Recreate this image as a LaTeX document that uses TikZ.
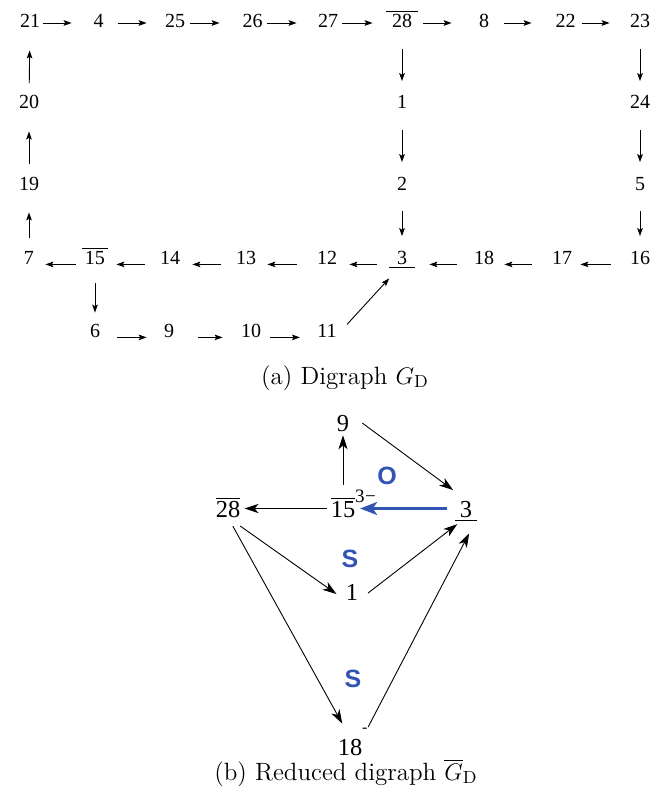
\documentclass[tikz,border=0pt]{standalone}
\usepackage{fontspec}
\usetikzlibrary{arrows.meta}
\newfontfamily\timesf{Liberation Serif}
\newfontfamily\helvf{Liberation Sans}
\definecolor{markblue}{RGB}{48,84,178}
% bar over / line under a label
\newcommand\obar[2][0pt]{$\overline{\hbox{\kern#1#2\kern#1}}$}
\newcommand\ubar[2][0pt]{$\underline{\hbox{\kern#1#2\kern#1}}$}
\tikzset{
  num/.style={font=\timesf\fontsize{10}{12}\selectfont, inner sep=0pt, text height=5pt, text depth=0pt, anchor=base},
  bnum/.style={font=\timesf\fontsize{12.2}{14}\selectfont, inner sep=0pt, text height=8.5pt, text depth=0pt, anchor=base},
  arr/.style={-{Stealth[length=4pt,width=2.8pt,inset=0.8pt]}, line width=0.45pt},
  gap/.style 2 args={arr, shorten <=#1, shorten >=#2},
  darr/.style={arr, shorten <=10.5pt, shorten >=8.75pt},
  uarr/.style={arr, shorten <=7.75pt, shorten >=11pt},
  barr/.style={-{Stealth[length=7pt,width=4.6pt,inset=2pt]}, line width=0.45pt},
  oarr/.style={-{Stealth[length=8.5pt,width=6.5pt,inset=2.2pt]}, line width=1.6pt, draw=markblue},
  sidelbl/.style={font=\helvf\bfseries\fontsize{12.5}{14}\selectfont, text=markblue, inner sep=0pt},
  caption/.style={font=\fontsize{12.5}{15}\selectfont, anchor=base},
}
\begin{document}
\begin{tikzpicture}[x=0.5pt, y=-0.5pt]
    \useasboundingbox (0,0) rectangle (664,792);
    % row baselines of the digraph
    \def\ra{28} \def\rb{109} \def\rc{190} \def\rd{264} \def\re{337}

    % --- (a) Digraph: top row ---
    \node[num] (t21) at (30,\ra) {21};
    \node[num] (t4) at (98.5,\ra) {4};
    \node[num] (t25) at (175,\ra) {25};
    \node[num] (t26) at (252.5,\ra) {26};
    \node[num] (t27) at (328,\ra) {27};
    \node[num] (t28) at (402,\ra) {\obar[3pt]{28}};
    \node[num] (t8) at (484,\ra) {8};
    \node[num] (t22) at (565.5,\ra) {22};
    \node[num] (t23) at (640,\ra) {23};

    % --- columns ---
    \node[num] (t20) at (29,\rb) {20};
    \node[num] (t19) at (29,\rc) {19};
    \node[num] (t1) at (402,\rb) {1};
    \node[num] (t2) at (402,\rc) {2};
    \node[num] (t24) at (640,\rb) {24};
    \node[num] (t5) at (640,\rc) {5};

    % --- bottom rows ---
    \node[num] (t7) at (29,\rd) {7};
    \node[num] (t15) at (95,\rd) {\obar[1.5pt]{15}};
    \node[num] (t14) at (170,\rd) {14};
    \node[num] (t13) at (246,\rd) {13};
    \node[num] (t12) at (327,\rd) {12};
    \node[num] (t3) at (402,\rd) {\ubar[4pt]{3}};
    \node[num] (t18) at (484,\rd) {18};
    \node[num] (t17) at (562,\rd) {17};
    \node[num] (t16) at (640,\rd) {16};
    \node[num] (t6) at (95,\re) {6};
    \node[num] (t9) at (169,\re) {9};
    \node[num] (t10) at (251,\re) {10};
    \node[num] (t11) at (327,\re) {11};

    % --- arcs of (a) ---
    \draw[gap={1.5pt}{10.75pt}] (t21) -- (t4);
    \draw[gap={7.25pt}{9pt}] (t4) -- (t25);
    \draw[gap={2.5pt}{11.25pt}] (t25) -- (t26);
    \draw[gap={2.25pt}{10.5pt}] (t26) -- (t27);
    \draw[gap={2pt}{6.5pt}] (t27) -- (t28);
    \draw[gap={2.5pt}{13.5pt}] (t28) -- (t8);
    \draw[gap={7.5pt}{11.75pt}] (t8) -- (t22);
    \draw[gap={3.25pt}{10pt}] (t22) -- (t23);
    \draw[darr] (t28) -- (t1);
    \draw[darr] (t1) -- (t2);
    \draw[darr] (t2) -- (t3);
    \draw[darr] (t23) -- (t24);
    \draw[darr] (t24) -- (t5);
    \draw[darr] (t5) -- (t16);
    \draw[uarr] (t7) -- (t19);
    \draw[uarr] (t19) -- (t20);
    \draw[uarr] (t20) -- (t21);
    \draw[gap={9.5pt}{4pt}] (t16.south west) -- (t17.south east);
    \draw[gap={10pt}{5pt}] (t17.south west) -- (t18.south east);
    \draw[gap={8.5pt}{7pt}] (t18.south west) -- (t3.south east);
    \draw[gap={6pt}{6pt}] (t3.south west) -- (t12.south east);
    \draw[gap={10pt}{5.5pt}] (t12.south west) -- (t13.south east);
    \draw[gap={7.5pt}{6pt}] (t13.south west) -- (t14.south east);
    \draw[gap={7.5pt}{4pt}] (t14.south west) -- (t15.south east);
    \draw[gap={3pt}{5.5pt}] (t15.south west) -- (t7.south east);
    \draw[darr, shorten <=9.5pt, shorten >=7pt] (t15) -- (t6);
    \draw[gap={8.5pt}{8.5pt}] (t6.south east) -- (t9.south west);
    \draw[gap={12pt}{9pt}] (t9.south east) -- (t10.south west);
    \draw[gap={4.5pt}{8.5pt}] (t10.south east) -- (t11.south west);
    \draw[gap={1.5pt}{9.5pt}] ([xshift=4pt]t11.north east) -- (t3.south);

    \node[caption] (capA) at (345,384) {(a) Digraph $G_{\mathrm{D}}$};

    % --- (b) Reduced digraph ---
    \node[bnum] (b9) at (343,431) {9};
    \node[bnum] (b15) at (343,517) {\obar{15}\rlap{\raisebox{7.5pt}{\fontsize{9.5}{9.5}\selectfont 3\kern0.2pt−}}};
    \node[bnum] (b28) at (228,517) {\obar{28}};
    \node[bnum] (b3) at (466,517) {\ubar[2.5pt]{3}};
    \node[bnum] (b1) at (352,600) {1};
    \node[bnum] (b18) at (350,755) {18\rlap{\raisebox{11.5pt}{\fontsize{8}{8}\selectfont -}}};

    \draw[barr, shorten <=7.5pt, shorten >=2pt] (b15.north) -- (b9.south);
    \draw[barr, shorten <=1.5pt, shorten >=2pt] (b15) -- (b28);
    \draw[oarr, shorten <=3.75pt, shorten >=2.25pt] (b3) -- (b15);
    \draw[barr, shorten <=8pt, shorten >=8pt] (b9.north east) -- (b3.north);
    \draw[barr, shorten <=7.5pt, shorten >=5.5pt] (b28.south) -- (b1.south west);
    \draw[barr, shorten <=6pt, shorten >=5.5pt] (b1.south east) -- (b3.south);
    \draw[barr, shorten <=5pt, shorten >=8pt] (b28.south) -- (b18.north);
    \draw[barr, shorten <=6pt, shorten >=9pt] (b18.north east) -- (b3.south east);

    % --- blue markers ---
    \node[sidelbl] (lblO) at (387,476) {O};
    \node[sidelbl] (lblS1) at (350,559) {S};
    \node[sidelbl] (lblS2) at (353,679) {S};

    \node[caption] (capB) at (346,780) {(b) Reduced digraph $\overline{G}_{\mathrm{D}}$};
\end{tikzpicture}
\end{document}
